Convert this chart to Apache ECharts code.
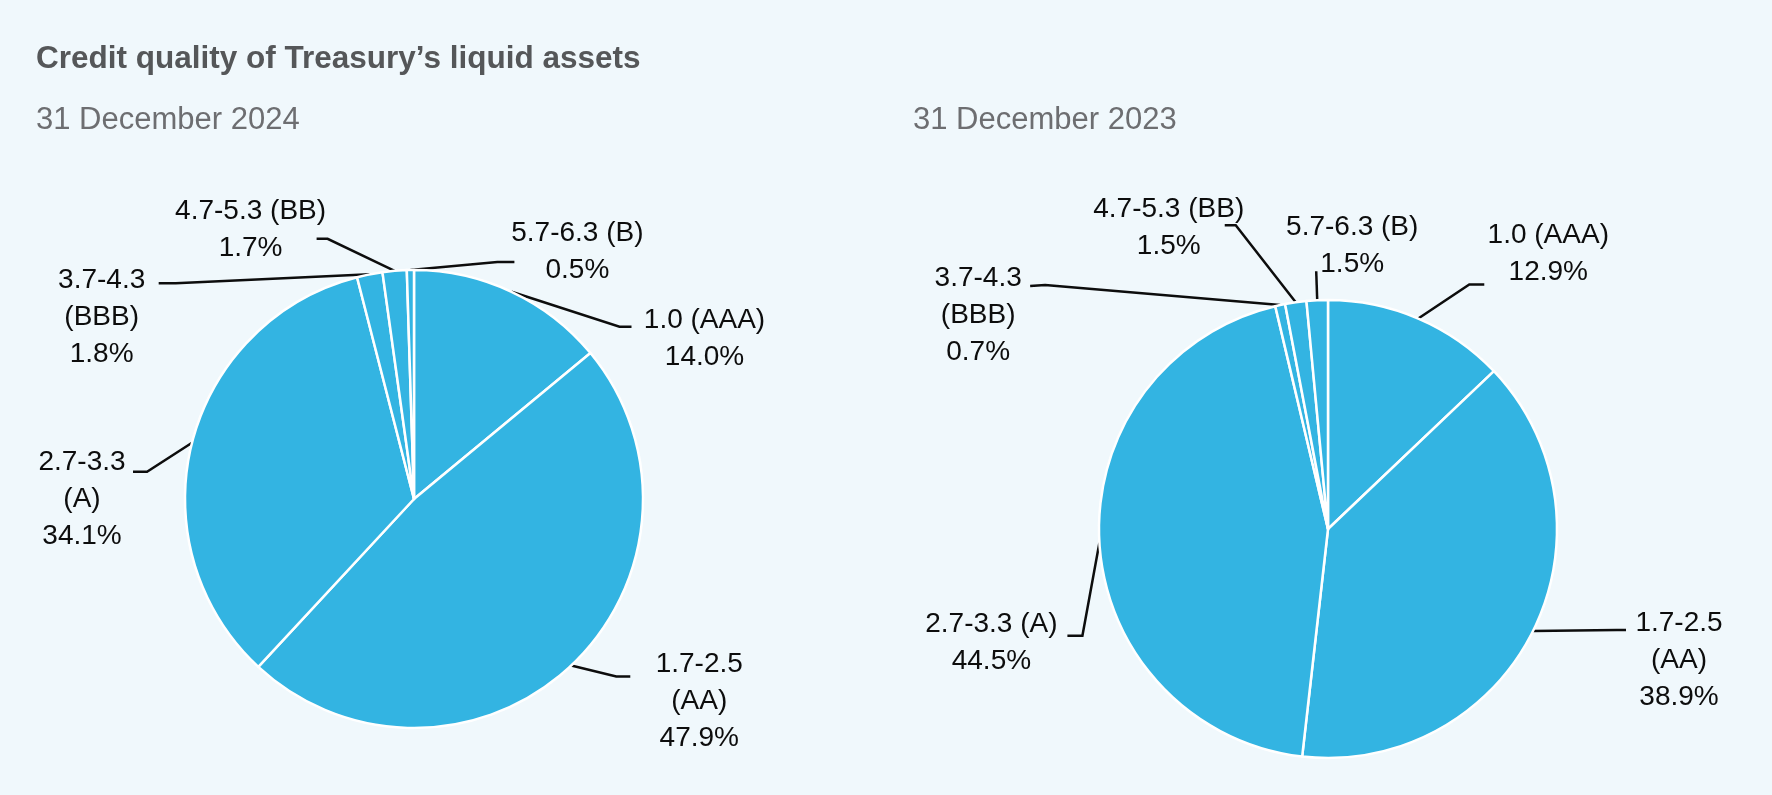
<!DOCTYPE html>
<html><head><meta charset="utf-8">
<script src="https://cdn.jsdelivr.net/npm/echarts@6/dist/echarts.min.js"></script>
<style>html,body{margin:0;padding:0;background:#F0F8FC;} #c{width:1772px;height:795px;}</style>
</head><body><div id="c"></div>
<script>
const chartTitle = 'Credit quality of Treasury’s liquid assets';
const periodLabels = ['31 December 2024', '31 December 2023'];
const categories = ['1.0 (AAA)', '1.7-2.5 (AA)', '2.7-3.3 (A)', '3.7-4.3 (BBB)', '4.7-5.3 (BB)', '5.7-6.3 (B)'];
const values2024 = [14.0, 47.9, 34.1, 1.8, 1.7, 0.5];
const values2023 = [12.9, 38.9, 44.5, 0.7, 1.5, 1.5];

// whether the rating name breaks onto a second line before its bracket
const wrap2024 = [false, true, true, true, false, false];
const wrap2023 = [false, true, false, true, false, false];

// leader line geometry, offsets from the slice edge point computed by ECharts
const leaders2024 = [
  {elbow: [108, 35], end: [120, 35], label: [73, -7]},
  {elbow: [45, 11], end: [59, 11], label: [69, -12]},
  {elbow: [-45, 29], end: [-59, 29], label: [-51, -9]},
  {elbow: [-194, 9], end: [-211, 9], label: [-57, -3]},
  {elbow: [-67, -32], end: [-78, -32], label: [-66, -28]},
  {elbow: [87, -8], end: [104, -8], label: [63, -29]}
];
const leaders2023 = [
  {elbow: [51, -34], end: [66, -34], label: [64, -49]},
  {elbow: [84, -1], end: [93, -1], label: [53, -7]},
  {elbow: [-17, 93], end: [-32, 93], label: [-76, -11]},
  {elbow: [-235, -20], end: [-250, -19], label: [-52, -8]},
  {elbow: [-60, -77], end: [-71, -77], label: [-56, -16]},
  {elbow: [-1, -29], end: [-1, -29], label: [36, -44]}
];

const FONT = '"Liberation Sans", Arial, sans-serif';
const LH = 37;
const SLICE = '#33B4E2';

function buildData(values, wraps) {
  return categories.map((c, i) => ({
    name: c,
    value: values[i],
    label: {
      formatter: (wraps[i] ? c.replace(' (', '\n(') : c) + '\n' + values[i].toFixed(1) + '%'
    }
  }));
}

function makeLayout(leaders) {
  return function (p) {
    const pts = p.labelLinePoints;
    if (!pts) return {};
    const L = leaders[p.dataIndex];
    const x0 = pts[0][0], y0 = pts[0][1];
    const ex = x0 + L.end[0], ey = y0 + L.end[1];
    return {
      x: ex + L.label[0],
      y: ey + L.label[1] - LH / 2,
      align: 'center',
      verticalAlign: 'top',
      labelLinePoints: [[x0, y0], [x0 + L.elbow[0], y0 + L.elbow[1]], [ex, ey]]
    };
  };
}

function pieSeries(values, wraps, leaders, center) {
  return {
    type: 'pie',
    center: center,
    radius: 229,
    startAngle: 90,
    clockwise: true,
    avoidLabelOverlap: false,
    silent: true,
    animation: false,
    data: buildData(values, wraps),
    itemStyle: {color: SLICE, borderColor: '#FFFFFF', borderWidth: 2.5},
    label: {
      show: true, position: 'outside', color: '#0D0D0D',
      fontFamily: FONT, fontSize: 28, lineHeight: LH, align: 'center'
    },
    labelLine: {show: true, lineStyle: {color: '#0D0D0D', width: 2.5}},
    labelLayout: makeLayout(leaders),
    emphasis: {disabled: true}
  };
}

const chart = echarts.init(document.getElementById('c'), null, {renderer: 'canvas'});
chart.setOption({
  backgroundColor: '#F0F8FC',
  animation: false,
  title: [
    {text: chartTitle, left: 36, top: 43, padding: 0,
     textStyle: {fontFamily: FONT, fontWeight: 'bold', fontSize: 31.5, color: '#555759'}},
    {text: periodLabels[0], left: 36, top: 105, padding: 0,
     textStyle: {fontFamily: FONT, fontWeight: 'normal', fontSize: 31, color: '#6D6E71'}},
    {text: periodLabels[1], left: 913, top: 105, padding: 0,
     textStyle: {fontFamily: FONT, fontWeight: 'normal', fontSize: 31, color: '#6D6E71'}}
  ],
  series: [
    pieSeries(values2024, wrap2024, leaders2024, [414, 499]),
    pieSeries(values2023, wrap2023, leaders2023, [1328, 529])
  ]
});
</script></body></html>
